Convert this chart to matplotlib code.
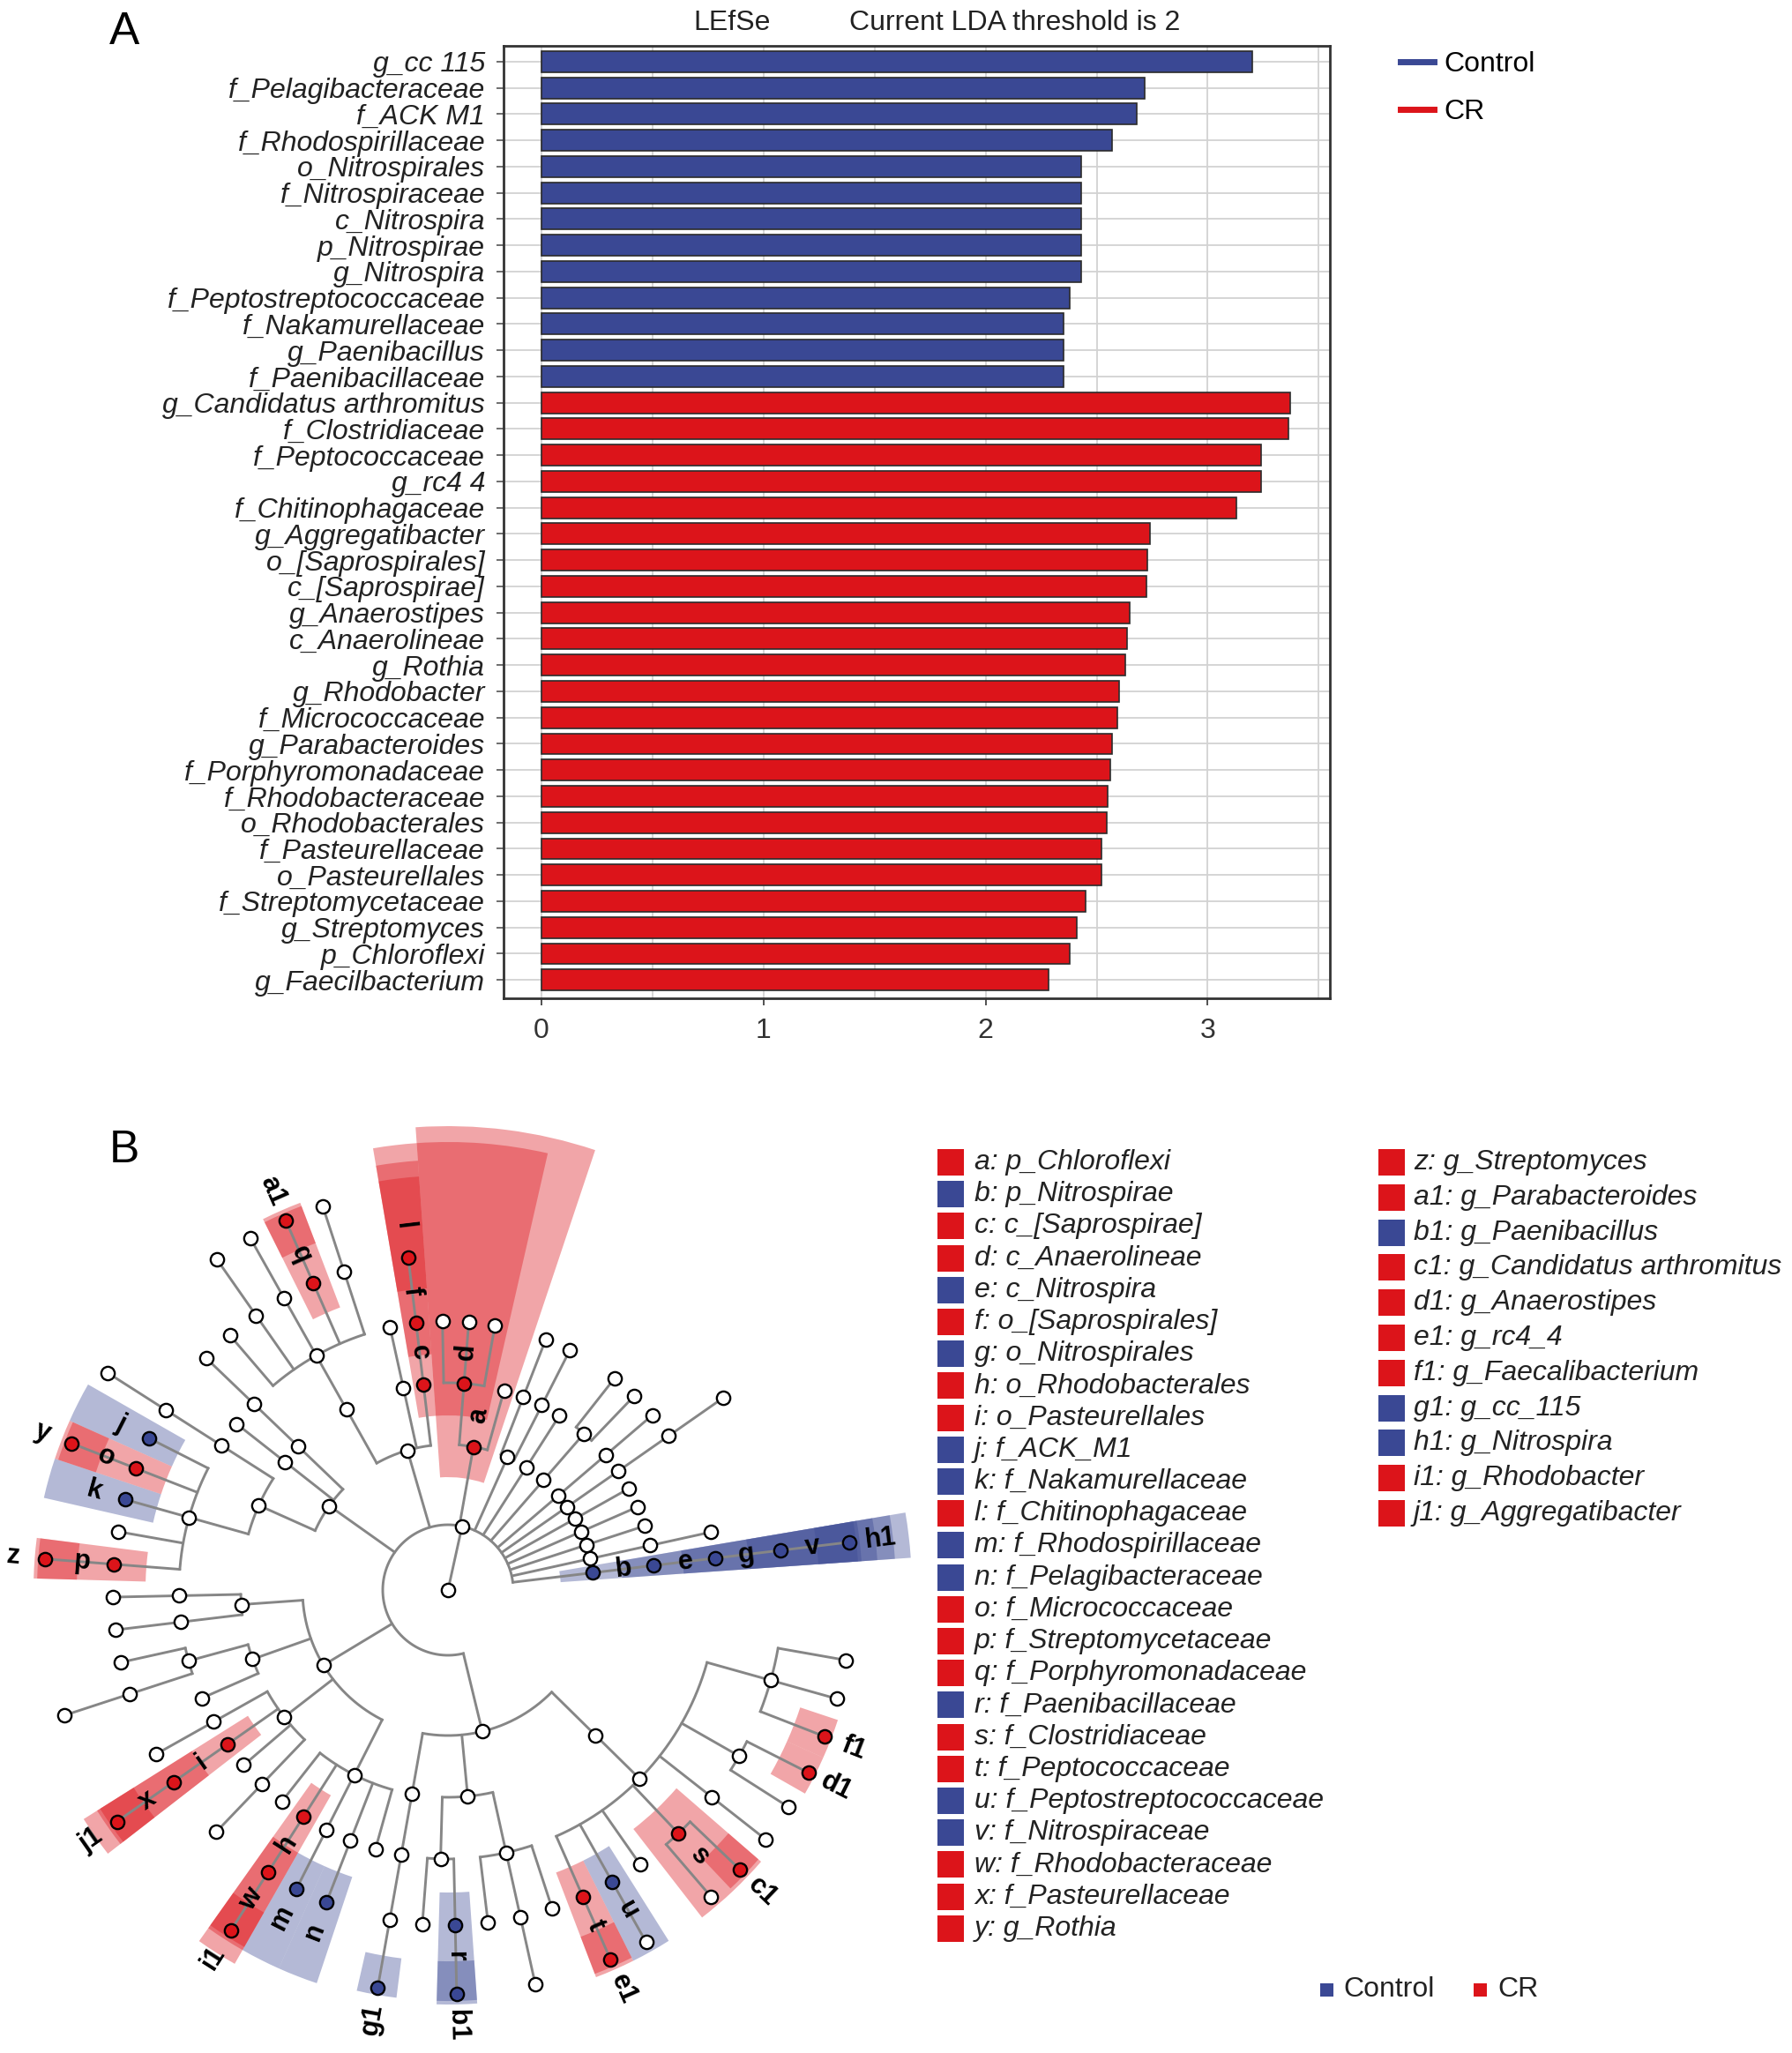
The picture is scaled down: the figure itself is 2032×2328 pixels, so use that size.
import numpy as np
import matplotlib
matplotlib.use('Agg')
import matplotlib.pyplot as plt
from matplotlib.patches import Wedge, Rectangle
from matplotlib.lines import Line2D

plt.rcParams['font.family'] = ['Liberation Sans', 'DejaVu Sans']

W, H = 2032, 2328
BLUE = '#3a4894'
RED = '#dc141a'
GROUP_COLOR = {'Control': BLUE, 'CR': RED}
FS = 23

# ---------------- panel A: LDA scores ----------------
bar_labels = ['g_cc 115', 'f_Pelagibacteraceae', 'f_ACK M1', 'f_Rhodospirillaceae',
              'o_Nitrospirales', 'f_Nitrospiraceae', 'c_Nitrospira', 'p_Nitrospirae',
              'g_Nitrospira', 'f_Peptostreptococcaceae', 'f_Nakamurellaceae',
              'g_Paenibacillus', 'f_Paenibacillaceae', 'g_Candidatus arthromitus',
              'f_Clostridiaceae', 'f_Peptococcaceae', 'g_rc4 4', 'f_Chitinophagaceae',
              'g_Aggregatibacter', 'o_[Saprospirales]', 'c_[Saprospirae]', 'g_Anaerostipes',
              'c_Anaerolineae', 'g_Rothia', 'g_Rhodobacter', 'f_Micrococcaceae',
              'g_Parabacteroides', 'f_Porphyromonadaceae', 'f_Rhodobacteraceae',
              'o_Rhodobacterales', 'f_Pasteurellaceae', 'o_Pasteurellales',
              'f_Streptomycetaceae', 'g_Streptomyces', 'p_Chloroflexi', 'g_Faecilbacterium']
bar_values = [3.20, 2.715, 2.68, 2.57, 2.43, 2.43, 2.43, 2.43, 2.43, 2.38, 2.35, 2.35, 2.35,
              3.37, 3.365, 3.24, 3.24, 3.13, 2.74, 2.73, 2.725, 2.65, 2.635, 2.63, 2.60,
              2.595, 2.57, 2.56, 2.55, 2.545, 2.52, 2.52, 2.45, 2.41, 2.38, 2.285]
bar_groups = ['Control'] * 13 + ['CR'] * 23

# ---------------- panel B: cladogram ----------------
lineages = [
    'p_Nitrospirae|c_Nitrospira|o_Nitrospirales|f_Nitrospiraceae|g_Nitrospira',
    'p_Verrucomicrobia|c_Verrucomicrobiae|o_Verrucomicrobiales',
    'p_Tenericutes|c_Mollicutes',
    'p_TM7|c_TM7-3',
    'p_Cyanobacteria|c_Chloroplast',
    'p_Planctomycetes|c_Planctomycetia|o_Pirellulales|f_Pirellulaceae',
    'p_Spirochaetes|c_Spirochaetes|o_Spirochaetales',
    'p_Acidobacteria|c_Acidobacteriia|o_Acidobacteriales',
    'p_Acidobacteria|c_Acidobacteriia|o_Koribacterales',
    'p_Fusobacteria|c_Fusobacteriia',
    'p_Gemmatimonadetes|c_Gemmatimonadetes|o_Gemmatimonadales',
    'p_Gemmatimonadetes|c_Gemm-1|o_Gemm-1',
    'p_Chloroflexi|c_Ellin6529',
    'p_Chloroflexi|c_Anaerolineae|o_A31',
    'p_Chloroflexi|c_Anaerolineae|o_Caldilineales',
    'p_Chloroflexi|c_Anaerolineae|o_SBR1031',
    'p_Bacteroidetes|c_[Saprospirae]|o_[Saprospirales]|f_Chitinophagaceae',
    'p_Bacteroidetes|c_Flavobacteriia|o_Flavobacteriales',
    'p_Bacteroidetes|c_Bacteroidia|o_Bacteroidales|f_Bacteroidaceae|g_Bacteroides',
    'p_Bacteroidetes|c_Bacteroidia|o_Bacteroidales|f_Porphyromonadaceae|g_Parabacteroides',
    'p_Bacteroidetes|c_Bacteroidia|o_Bacteroidales|f_Rikenellaceae|g_Alistipes',
    'p_Bacteroidetes|c_Bacteroidia|o_Bacteroidales|f_Prevotellaceae|g_Prevotella',
    'p_Bacteroidetes|c_Bacteroidia|o_Bacteroidales|f_S24-7',
    'p_Actinobacteria|c_Thermoleophilia|o_Solirubrobacterales|f_Solirubrobacteraceae',
    'p_Actinobacteria|c_Acidimicrobiia|o_Acidimicrobiales',
    'p_Actinobacteria|c_Actinobacteria|o_Bifidobacteriales|f_Bifidobacteriaceae|g_Bifidobacterium',
    'p_Actinobacteria|c_Actinobacteria|o_Actinomycetales|f_ACK_M1',
    'p_Actinobacteria|c_Actinobacteria|o_Actinomycetales|f_Micrococcaceae|g_Rothia',
    'p_Actinobacteria|c_Actinobacteria|o_Actinomycetales|f_Nakamurellaceae',
    'p_Actinobacteria|c_Actinobacteria|o_Actinomycetales|f_Corynebacteriaceae',
    'p_Actinobacteria|c_Actinobacteria|o_Actinomycetales|f_Streptomycetaceae|g_Streptomyces',
    'p_Proteobacteria|c_Deltaproteobacteria|o_Desulfovibrionales|f_Desulfovibrionaceae',
    'p_Proteobacteria|c_Deltaproteobacteria|o_Myxococcales|f_Haliangiaceae',
    'p_Proteobacteria|c_Betaproteobacteria|o_Burkholderiales|f_Comamonadaceae',
    'p_Proteobacteria|c_Betaproteobacteria|o_Burkholderiales|f_Alcaligenaceae|g_Sutterella',
    'p_Proteobacteria|c_Betaproteobacteria|o_Neisseriales',
    'p_Proteobacteria|c_Gammaproteobacteria|o_Enterobacteriales|f_Enterobacteriaceae',
    'p_Proteobacteria|c_Gammaproteobacteria|o_Pasteurellales|f_Pasteurellaceae|g_Aggregatibacter',
    'p_Proteobacteria|c_Gammaproteobacteria|o_Xanthomonadales',
    'p_Proteobacteria|c_Gammaproteobacteria|o_Pseudomonadales|f_Moraxellaceae',
    'p_Proteobacteria|c_Alphaproteobacteria|o_Sphingomonadales',
    'p_Proteobacteria|c_Alphaproteobacteria|o_Rhodobacterales|f_Rhodobacteraceae|g_Rhodobacter',
    'p_Proteobacteria|c_Alphaproteobacteria|o_Rhodospirillales|f_Rhodospirillaceae',
    'p_Proteobacteria|c_Alphaproteobacteria|o_Rickettsiales|f_Pelagibacteraceae',
    'p_Proteobacteria|c_Alphaproteobacteria|o_Rhizobiales',
    'p_Firmicutes|c_Erysipelotrichi|o_Erysipelotrichales|f_Erysipelotrichaceae|g_cc_115',
    'p_Firmicutes|c_Bacilli|o_Bacillales|f_Staphylococcaceae',
    'p_Firmicutes|c_Bacilli|o_Bacillales|f_Paenibacillaceae|g_Paenibacillus',
    'p_Firmicutes|c_Bacilli|o_Lactobacillales|f_Streptococcaceae',
    'p_Firmicutes|c_Bacilli|o_Lactobacillales|f_Lactobacillaceae|g_Lactobacillus',
    'p_Firmicutes|c_Bacilli|o_Lactobacillales|f_Enterococcaceae',
    'p_Firmicutes|c_Clostridia|o_Clostridiales|f_Peptococcaceae|g_rc4_4',
    'p_Firmicutes|c_Clostridia|o_Clostridiales|f_Peptostreptococcaceae|g_Peptostreptococcus',
    'p_Firmicutes|c_Clostridia|o_Clostridiales|f_Veillonellaceae',
    'p_Firmicutes|c_Clostridia|o_Clostridiales|f_Clostridiaceae|g_Clostridium',
    'p_Firmicutes|c_Clostridia|o_Clostridiales|f_Clostridiaceae|g_Candidatus arthromitus',
    'p_Firmicutes|c_Clostridia|o_Clostridiales|f_Christensenellaceae|g_Christensenella',
    'p_Firmicutes|c_Clostridia|o_Clostridiales|f_Lachnospiraceae|g_Blautia',
    'p_Firmicutes|c_Clostridia|o_Clostridiales|f_Lachnospiraceae|g_Anaerostipes',
    'p_Firmicutes|c_Clostridia|o_Clostridiales|f_Ruminococcaceae|g_Faecalibacterium',
    'p_Firmicutes|c_Clostridia|o_Clostridiales|f_Ruminococcaceae|g_Oscillospira',
    'p_Firmicutes|c_Clostridia|o_Clostridiales|f_Ruminococcaceae|g_Ruminococcus',
]

clade_names = ['p_Chloroflexi', 'p_Nitrospirae', 'c_[Saprospirae]', 'c_Anaerolineae',
               'c_Nitrospira', 'o_[Saprospirales]', 'o_Nitrospirales', 'o_Rhodobacterales',
               'o_Pasteurellales', 'f_ACK_M1', 'f_Nakamurellaceae', 'f_Chitinophagaceae',
               'f_Rhodospirillaceae', 'f_Pelagibacteraceae', 'f_Micrococcaceae',
               'f_Streptomycetaceae', 'f_Porphyromonadaceae', 'f_Paenibacillaceae',
               'f_Clostridiaceae', 'f_Peptococcaceae', 'f_Peptostreptococcaceae',
               'f_Nitrospiraceae', 'f_Rhodobacteraceae', 'f_Pasteurellaceae', 'g_Rothia',
               'g_Streptomyces', 'g_Parabacteroides', 'g_Paenibacillus',
               'g_Candidatus arthromitus', 'g_Anaerostipes', 'g_rc4_4', 'g_Faecalibacterium',
               'g_cc_115', 'g_Nitrospira', 'g_Rhodobacter', 'g_Aggregatibacter']
clade_groups = ['CR', 'Control', 'CR', 'CR', 'Control', 'CR', 'Control', 'CR', 'CR',
                'Control', 'Control', 'CR', 'Control', 'Control', 'CR', 'CR', 'CR',
                'Control', 'CR', 'CR', 'Control', 'Control', 'CR', 'CR', 'CR',
                'CR', 'CR', 'Control', 'CR', 'CR', 'CR', 'CR', 'Control', 'Control', 'CR', 'CR']

letters = [chr(97 + i) if i < 26 else chr(97 + i - 26) + '1' for i in range(len(clade_names))]

fig = plt.figure(figsize=(W / 100, H / 100), dpi=100)


def fx(px):
    return px / W


def fy(py):
    return 1 - py / H


# ================= A =================
ax = fig.add_axes([fx(571), fy(1132), fx(1508) - fx(571), fy(52) - fy(1132)])
ypos = np.arange(len(bar_labels))
ax.barh(ypos, bar_values, height=0.8, color=[GROUP_COLOR[g] for g in bar_groups],
        edgecolor='#2b2b2b', linewidth=1.2, zorder=3)
ax.set_ylim(len(bar_labels) - 0.3, -0.6)
ax.set_xlim(-0.17, 3.55)
ax.set_yticks(ypos)
ax.set_yticklabels(bar_labels, fontsize=FS, style='italic', color='#222222')
ax.set_xticks([0, 1, 2, 3])
ax.set_xticks(np.arange(0, 3.6, 0.5), minor=True)
ax.tick_params(axis='x', which='major', labelsize=FS, length=6, width=1.2, pad=10,
               colors='#333333')
ax.tick_params(axis='x', which='minor', length=0)
ax.tick_params(axis='y', length=6, width=1.2, pad=9, colors='#555555', labelcolor='#222222')
ax.grid(axis='x', which='both', color='#d2d2d2', linewidth=1.3)
ax.grid(axis='y', color='#d2d2d2', linewidth=1.3)
ax.set_axisbelow(True)
for s in ax.spines.values():
    s.set_color('#333333')
    s.set_linewidth(2)

fig.text(fx(830), fy(26), 'LEfSe', fontsize=FS, ha='center', va='center', color='#222222')
fig.text(fx(1151), fy(26), 'Current LDA threshold is 2', fontsize=FS, ha='center',
         va='center', color='#222222')
fig.text(fx(141), fy(37), 'A', fontsize=37, ha='center', va='center')
fig.text(fx(141), fy(1305), 'B', fontsize=37, ha='center', va='center')

handles = [Line2D([], [], color=BLUE, lw=5), Line2D([], [], color=RED, lw=5)]
fig.legend(handles, ['Control', 'CR'], loc='upper left', bbox_to_anchor=(fx(1588), fy(58)),
           frameon=False, fontsize=FS, handlelength=1.2, handletextpad=0.35, labelspacing=0.75,
           borderaxespad=0, borderpad=0)

# ================= B: cladogram =================
cx, cy = 508, 1803
axc = fig.add_axes([0, fy(2328), fx(1080), fy(1240) - fy(2328)])
axc.set_xlim(-cx, 1080 - cx)
axc.set_ylim(-(2328 - cy), cy - 1240)
axc.axis('off')

R = [0, 74, 165, 235, 305, 380, 458]   # root, kingdom, phylum ... genus
R_EXTRA = [0, 0, 68, 50, 30, 12, 8]    # how far a shaded clade reaches past the genus ring
start_angle, end_angle = 6.8, 350.0

children = {(): []}
for lin in lineages:
    parts = ('k_Bacteria',) + tuple(lin.split('|'))
    for i in range(1, len(parts) + 1):
        key = parts[:i]
        if key not in children:
            children[key] = []
            children[parts[:i - 1]].append(key)

n_leaves = sum(1 for k, v in children.items() if not v)
step = (end_angle - start_angle) / (n_leaves - 1)
angle, span = {}, {}
counter = [0]


def place(key):
    if not children[key]:
        angle[key] = start_angle + counter[0] * step
        counter[0] += 1
        span[key] = (angle[key], angle[key])
        return
    for c in children[key]:
        place(c)
    angle[key] = np.mean([angle[c] for c in children[key]])
    span[key] = (min(span[c][0] for c in children[key]), max(span[c][1] for c in children[key]))


place(())


def pol(r, a):
    t = np.radians(a)
    return r * np.cos(t), r * np.sin(t)


name_to_key = {k[-1]: k for k in children if k}
LINE = '#868686'

# highlighted clades
for name, grp in zip(clade_names, clade_groups):
    key = name_to_key[name]
    d = len(key)
    a0, a1 = span[key]
    r_in = R[d] - 37
    r_out = R[-1] + R_EXTRA[d]
    axc.add_patch(Wedge((0, 0), r_out, a0 - step / 2, a1 + step / 2, width=r_out - r_in,
                        facecolor=GROUP_COLOR[grp], alpha=0.38, edgecolor='none', zorder=1))

# branches
for key, kids in children.items():
    if not key:
        continue
    d = len(key)
    a = angle[key]
    x0, y0 = pol(R[d - 1], a)
    x1, y1 = pol(R[d], a)
    axc.plot([x0, x1], [y0, y1], color=LINE, lw=2.1, zorder=2, solid_capstyle='round')
    if kids:
        ka = [angle[c] for c in kids]
        th = np.linspace(min(ka), max(ka), 200)
        axc.plot(*pol(R[d], th), color=LINE, lw=2.1, zorder=2)

# nodes
grp_of = {name_to_key[n]: g for n, g in zip(clade_names, clade_groups)}
for key in children:
    d = len(key)
    x, y = pol(R[d], angle[key]) if key else (0, 0)
    fc = GROUP_COLOR[grp_of[key]] if key in grp_of else 'white'
    axc.plot(x, y, 'o', ms=11, mfc=fc, mec='black', mew=1.7, zorder=4)

# node letters
for name, let in zip(clade_names, letters):
    key = name_to_key[name]
    a = angle[key]
    x, y = pol(R[len(key)] + 36, a)
    an = (a + 180) % 360 - 180
    rot = an if -90 <= an <= 90 else (an - 180 if an > 90 else an + 180)
    axc.text(x, y, let, fontsize=22, fontweight='bold', ha='center', va='center',
             rotation=rot, rotation_mode='anchor', zorder=5)

# ---------------- clade key ----------------
n_col1 = 25
for i, (name, grp, let) in enumerate(zip(clade_names, clade_groups, letters)):
    if i < n_col1:
        sx, tx, yy = 1063, 1105, 1318 + i * 36.2
    else:
        sx, tx, yy = 1563, 1603, 1318 + (i - n_col1) * 39.8
    fig.patches.append(Rectangle((fx(sx), fy(yy + 15)), fx(30), 30 / H,
                                 facecolor=GROUP_COLOR[grp], edgecolor='none',
                                 transform=fig.transFigure, figure=fig))
    fig.text(fx(tx), fy(yy), f'{let}: {name}', fontsize=FS, style='italic',
             ha='left', va='center', color='#222222')

for grp, sx, tx in [('Control', 1497, 1523), ('CR', 1671, 1698)]:
    fig.patches.append(Rectangle((fx(sx), fy(2264)), fx(15), 15 / H,
                                 facecolor=GROUP_COLOR[grp], edgecolor='none',
                                 transform=fig.transFigure, figure=fig))
    fig.text(fx(tx), fy(2256), grp, fontsize=FS, ha='left', va='center', color='#222222')

fig.savefig('out.png', dpi=100)
